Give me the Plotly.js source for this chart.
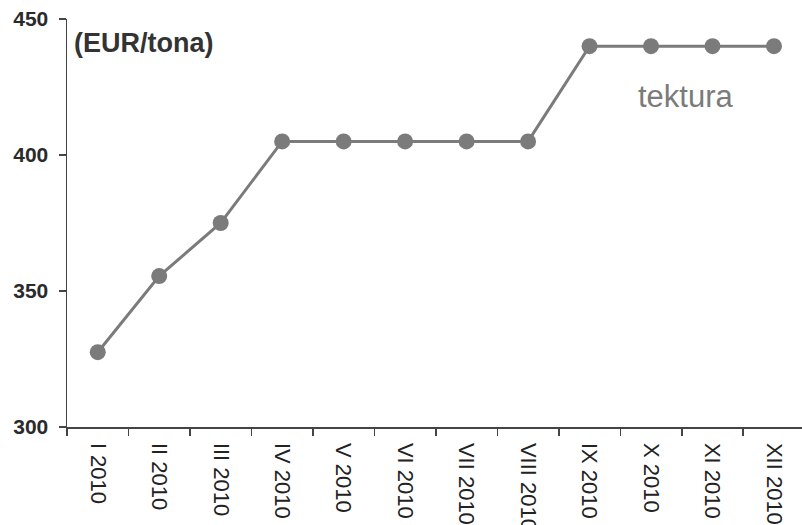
<!DOCTYPE html>
<html>
<head>
<meta charset="utf-8">
<script src="https://cdn.plot.ly/plotly-3.0.1.min.js"></script>
<style>html,body{margin:0;padding:0;background:#fff;}#chart{width:802px;height:525px;}</style>
</head>
<body>
<div id="chart"></div>
<script>
const months = ["I 2010","II 2010","III 2010","IV 2010","V 2010","VI 2010","VII 2010","VIII 2010","IX 2010","X 2010","XI 2010","XII 2010"];
const tektura = [327.5, 355.5, 375, 405, 405, 405, 405, 405, 440, 440, 440, 440];
const yTicks = [300, 350, 400, 450];
const seriesName = "tektura";
const unitLabel = "(EUR/tona)";

const trace = {
  x: months, y: tektura, type: "scatter", mode: "lines+markers", name: seriesName,
  line: {color: "#7b7b7b", width: 3},
  marker: {color: "#7b7b7b", size: 16}
};
const layout = {
  width: 802, height: 525,
  margin: {l: 67, r: 0, t: 19, b: 98, autoexpand: false},
  paper_bgcolor: "#fff", plot_bgcolor: "#fff",
  showlegend: false,
  font: {family: "Liberation Sans, Arial, sans-serif", color: "#222"},
  xaxis: {
    type: "category", range: [-0.5, 11.456], tickson: "boundaries",
    ticks: "outside", ticklen: 7, tickcolor: "#444", tickwidth: 1.5,
    showline: true, linecolor: "#444", linewidth: 1.5,
    showgrid: false, zeroline: false, tickangle: 90, ticklabelstandoff: 10,
    tickfont: {size: 22, color: "#222"}, automargin: false
  },
  yaxis: {
    range: [300, 450], tickvals: yTicks, ticktext: yTicks.map(String),
    ticks: "outside", ticklen: 7, tickcolor: "#444", tickwidth: 1.5,
    showline: true, linecolor: "#444", linewidth: 1.5,
    showgrid: false, zeroline: false, ticklabelstandoff: 6,
    tickfont: {size: 21, color: "#2a2a2a", weight: "bold"}, automargin: false
  },
  annotations: [
    {text: "<b>" + unitLabel + "</b>", xref: "paper", yref: "paper", x: 0.007, y: 0.94, xanchor: "left", yanchor: "middle", showarrow: false, font: {size: 27, color: "#333"}},
    {text: seriesName, xref: "x", yref: "y", x: 9.57, y: 421.5, xanchor: "center", yanchor: "middle", showarrow: false, font: {size: 31, color: "#7b7b7b"}}
  ]
};
Plotly.newPlot("chart", [trace], layout, {staticPlot: true, displayModeBar: false});
</script>
</body>
</html>
